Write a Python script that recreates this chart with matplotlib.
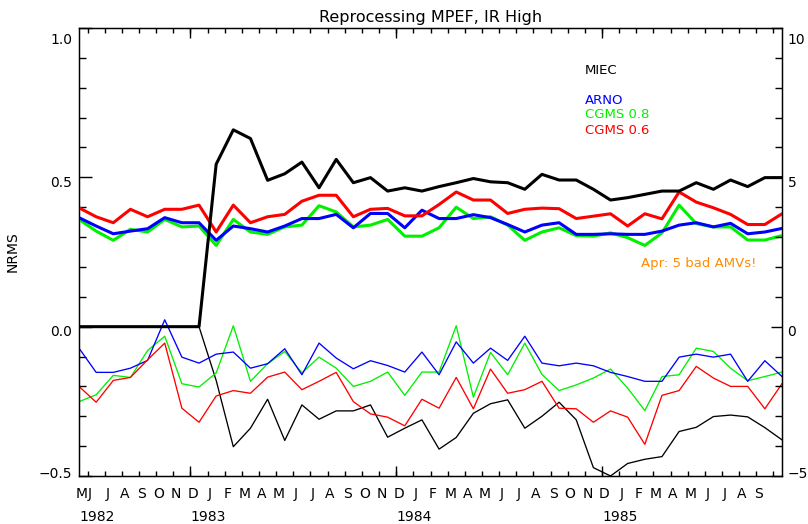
import numpy as np
import matplotlib
matplotlib.use("Agg")
import matplotlib.pyplot as plt
import matplotlib.transforms as mtransforms
from matplotlib.ticker import MultipleLocator

# ---- data (monthly, May 1982 .. Oct 1985) ----
miec_top = [0, 0, 0, 0, 0, 0, 0, 0, 0.544, 0.659, 0.63, 0.49, 0.512, 0.551, 0.465, 0.56,
            0.482, 0.499, 0.454, 0.465, 0.454, 0.469, 0.482, 0.496, 0.485, 0.482, 0.46, 0.51,
            0.491, 0.491, 0.46, 0.424, 0.432, 0.443, 0.454, 0.454, 0.482, 0.46, 0.491, 0.469,
            0.499, 0.499]
arno_top = [0.365, 0.337, 0.311, 0.32, 0.328, 0.365, 0.348, 0.348, 0.289, 0.337, 0.328, 0.317,
            0.337, 0.362, 0.362, 0.376, 0.331, 0.379, 0.379, 0.331, 0.39, 0.362, 0.362, 0.375,
            0.365, 0.342, 0.317, 0.34, 0.348, 0.309, 0.309, 0.311, 0.309, 0.309, 0.32, 0.34,
            0.348, 0.334, 0.346, 0.311, 0.317, 0.329]
cgms08_top = [0.359, 0.32, 0.289, 0.326, 0.317, 0.359, 0.334, 0.337, 0.272, 0.359, 0.317, 0.309,
              0.334, 0.34, 0.405, 0.384, 0.334, 0.34, 0.359, 0.303, 0.303, 0.331, 0.4, 0.362,
              0.368, 0.34, 0.289, 0.317, 0.331, 0.305, 0.303, 0.314, 0.298, 0.272, 0.314, 0.407,
              0.345, 0.334, 0.334, 0.29, 0.29, 0.305]
cgms06_top = [0.398, 0.368, 0.348, 0.393, 0.368, 0.393, 0.393, 0.407, 0.317, 0.407, 0.348, 0.368,
              0.376, 0.42, 0.44, 0.44, 0.368, 0.393, 0.396, 0.371, 0.371, 0.409, 0.451, 0.424,
              0.424, 0.379, 0.393, 0.397, 0.395, 0.362, 0.37, 0.378, 0.337, 0.378, 0.361, 0.451,
              0.417, 0.398, 0.376, 0.342, 0.342, 0.378]

miec_bot = [0, 0, 0, 0, 0, 0, 0, 0, -0.18, -0.402, -0.34, -0.243, -0.381, -0.262, -0.31, -0.282,
            -0.282, -0.262, -0.37, -0.34, -0.312, -0.41, -0.371, -0.29, -0.258, -0.245, -0.34, -0.3,
            -0.253, -0.312, -0.472, -0.5, -0.458, -0.444, -0.435, -0.351, -0.337, -0.301, -0.296,
            -0.302, -0.338, -0.379]
arno_bot = [-0.072, -0.153, -0.153, -0.139, -0.113, 0.023, -0.102, -0.122, -0.092, -0.085, -0.139,
            -0.124, -0.074, -0.161, -0.055, -0.105, -0.141, -0.114, -0.13, -0.152, -0.085, -0.161,
            -0.051, -0.122, -0.072, -0.113, -0.032, -0.122, -0.131, -0.122, -0.131, -0.153, -0.167,
            -0.183, -0.183, -0.102, -0.092, -0.102, -0.092, -0.183, -0.114, -0.167]
cgms08_bot = [-0.251, -0.228, -0.163, -0.17, -0.08, -0.032, -0.191, -0.202, -0.155, 0.003, -0.183,
              -0.124, -0.083, -0.155, -0.102, -0.139, -0.2, -0.183, -0.152, -0.23, -0.152, -0.152,
              0.003, -0.236, -0.086, -0.161, -0.055, -0.16, -0.214, -0.195, -0.172, -0.142, -0.206,
              -0.281, -0.167, -0.161, -0.072, -0.083, -0.139, -0.181, -0.167, -0.152]
cgms06_bot = [-0.2, -0.253, -0.18, -0.17, -0.111, -0.055, -0.273, -0.32, -0.232, -0.214, -0.223,
              -0.169, -0.152, -0.211, -0.183, -0.153, -0.251, -0.292, -0.303, -0.332, -0.243, -0.273,
              -0.17, -0.275, -0.142, -0.223, -0.211, -0.183, -0.273, -0.275, -0.32, -0.282, -0.303,
              -0.394, -0.23, -0.214, -0.133, -0.172, -0.2, -0.2, -0.275, -0.191]

# month-start tick labels (Jun 1982 .. Oct 1985); first axis label is May
start_month_label = "M"
month_labels = ["J", "J", "A", "S", "O", "N", "D",
                "J", "F", "M", "A", "M", "J", "J", "A", "S", "O", "N", "D",
                "J", "F", "M", "A", "M", "J", "J", "A", "S", "O", "N", "D",
                "J", "F", "M", "A", "M", "J", "J", "A", "S", ""]
years = ["1982", "1983", "1984", "1985"]

left_ticks = [-0.5, 0.0, 0.5, 1.0]
left_ticklabels = ["\u22120.5", "0.0", "0.5", "1.0"]
right_ticks = [-5, 0, 5, 10]
right_ticklabels = ["\u22125", "0", "5", "10"]

legend_names = ["MIEC", "ARNO", "CGMS 0.8", "CGMS 0.6"]
legend_colors = ["black", "#0000ff", "#00f000", "#ff0000"]
note_text = "Apr: 5 bad AMVs!"

# ---- figure ----
plt.rcParams['font.family'] = ['DejaVu Sans']
fig = plt.figure(figsize=(8.08, 5.24), dpi=100)
ax = fig.add_axes([79 / 808, 1 - 476 / 524, 703 / 808, 448 / 524])

x = np.arange(len(miec_top))
n = len(x)

thick = 2.2
thin = 0.95
ax.plot(x, miec_bot, color="black", lw=thin, zorder=2)
ax.plot(x, cgms08_bot, color=legend_colors[2], lw=thin, zorder=2)
ax.plot(x, arno_bot, color=legend_colors[1], lw=thin, zorder=2)
ax.plot(x, cgms06_bot, color=legend_colors[3], lw=thin, zorder=2)

ax.plot(x, cgms08_top, color=legend_colors[2], lw=thick, zorder=3)
ax.plot(x, arno_top, color=legend_colors[1], lw=thick, zorder=3)
ax.plot(x, cgms06_top, color=legend_colors[3], lw=thick, zorder=3)
ax.plot(x, miec_top, color="black", lw=thick, zorder=4)

ax.set_xlim(0, n - 1)
ax.set_ylim(-0.5, 1.0)

# y axis (left)
ax.set_yticks(left_ticks)
ax.set_yticklabels(left_ticklabels)
ax.yaxis.set_minor_locator(MultipleLocator(0.1))
ax.tick_params(axis='y', which='major', direction='in', length=9.5, width=1, labelsize=10, pad=5,
               left=True, right=False)
ax.tick_params(axis='y', which='minor', direction='in', length=5, width=1, left=True, right=False)
ax.set_ylabel("NRMS", fontsize=10)
ax.yaxis.set_label_coords(-(79 - 20) / 703, 0.5)

# x axis
month_pos = np.arange(0.5, n - 1, 1.0)
ax.set_xticks(month_pos)
ax.set_xticklabels(month_labels)
jan_idx = [6, 18, 30]
ax.set_xticks([month_pos[i] for i in jan_idx], minor=True)
ax.xaxis.remove_overlapping_locs = False
ax.tick_params(axis='x', which='major', direction='in', length=3.6, width=1, labelsize=10, pad=8,
               top=True, bottom=True)
ax.tick_params(axis='x', which='minor', direction='in', length=7.5, width=1, top=True, bottom=True)
off = mtransforms.ScaledTranslation(2.5 / 100, 0, fig.dpi_scale_trans)
for lab in ax.get_xticklabels():
    lab.set_transform(lab.get_transform() + off)

trans_x = mtransforms.blended_transform_factory(ax.transData, ax.transAxes)
ax.text(0, -18 / 448, start_month_label, transform=trans_x + off, ha='center', va='center', fontsize=10)
year_pos = [0] + [month_pos[i] for i in jan_idx]
for yp, ylab in zip(year_pos, years):
    ax.text(yp, -41 / 448, ylab, transform=trans_x, ha='left', va='center', fontsize=10)

for sp in ax.spines.values():
    sp.set_linewidth(1)

# right axis
ax2 = ax.twinx()
ax2.set_ylim(-5, 10)
ax2.set_yticks(right_ticks)
ax2.set_yticklabels(right_ticklabels)
ax2.yaxis.set_minor_locator(MultipleLocator(1))
ax2.tick_params(axis='y', which='major', direction='in', length=8, width=1, labelsize=10, pad=4)
ax2.tick_params(axis='y', which='minor', direction='in', length=5, width=1)

# vertical nudges of y tick labels (bottom, middle, middle, top), in pixels
nudges = [3, -4, -4, -11]
for axis_labels in (ax.get_yticklabels(), ax2.get_yticklabels()):
    for lab, dy in zip(axis_labels, nudges):
        lab.set_transform(lab.get_transform() +
                          mtransforms.ScaledTranslation(0, dy / 100, fig.dpi_scale_trans))

ax.set_title("Reprocessing MPEF, IR High", fontsize=11.5, pad=4)

# legend texts
leg_y = [(476 - 70) / 448, (476 - 100) / 448, (476 - 115) / 448, (476 - 130) / 448]
for name, col, yy in zip(legend_names, legend_colors, leg_y):
    ax.text((585 - 79) / 703, yy, name, color=col, transform=ax.transAxes,
            ha='left', va='center', fontsize=9.5)
ax.text((641 - 79) / 703, (476 - 263) / 448, note_text, color="#ff8c00", transform=ax.transAxes,
        ha='left', va='center', fontsize=9.5)

fig.savefig("out.png", dpi=100)
